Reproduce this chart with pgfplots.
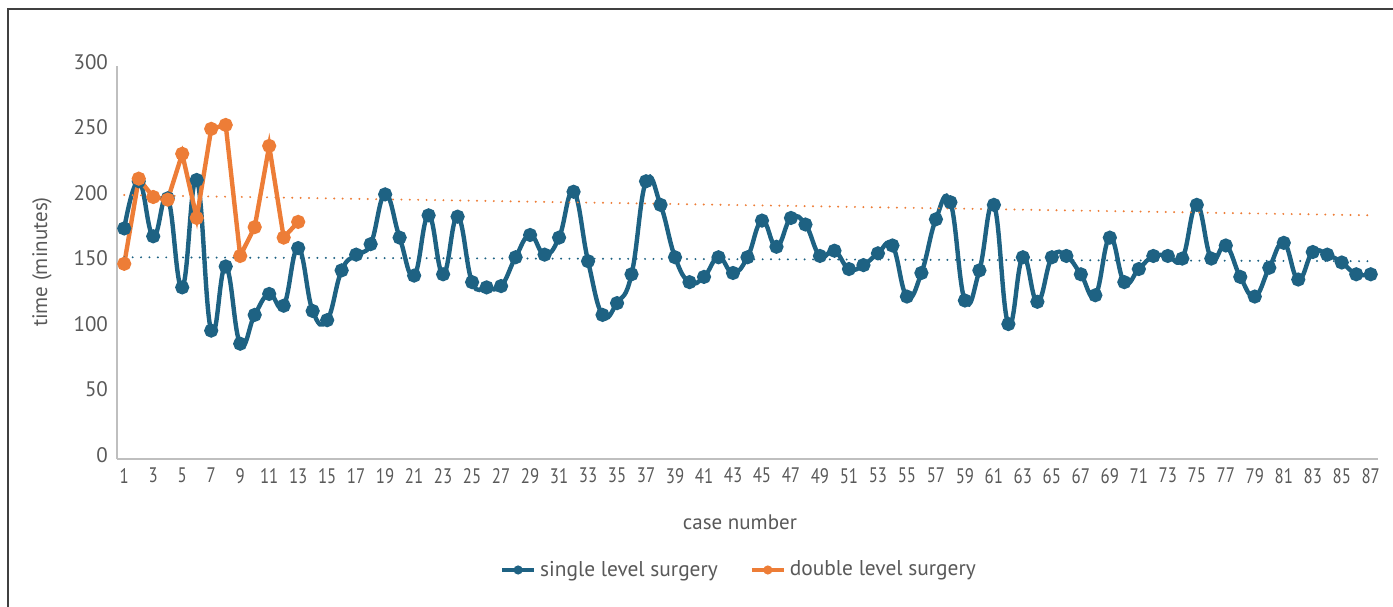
\documentclass[border=0pt]{standalone}
\usepackage{pgfplots}
\pgfplotsset{compat=1.18}
\usepackage{fontspec}
\setmainfont{PT Sans}
\newfontfamily\condfont[FakeStretch=0.8]{PT Sans}
\definecolor{sblue}{RGB}{30,98,131}
\definecolor{sorange}{RGB}{237,125,55}
\definecolor{txt}{RGB}{89,89,89}
\definecolor{axl}{RGB}{191,191,191}
\begin{document}
\begin{tikzpicture}
\useasboundingbox (0,0) rectangle (696.5pt,303pt);
\draw[black!75, line width=0.8pt] (4pt,-5pt) -- (4pt,298.5pt) -- (705pt,298.5pt);
\begin{axis}[
  at={(58.5pt,73.5pt)}, anchor=south west,
  scale only axis, width=630.5pt, height=196.5pt,
  xmin=0.5, xmax=87.5, ymin=0, ymax=300,
  axis x line*=bottom, axis y line*=left,
  axis line style={-, draw=axl, line width=0.9pt},
  major tick length=0pt,
  xtick={1,3,...,87}, ytick={0,50,...,300},
  /pgf/number format/assume math mode=true,
  yticklabel style={font=\fontsize{10.5}{12}\selectfont, text=txt, xshift=-1pt, yshift=2pt},
  xticklabel style={font=\condfont\fontsize{10.5}{12}\selectfont, text=txt, yshift=-1pt},
  xlabel={case number}, ylabel={time (minutes)},
  label style={font=\fontsize{10.5}{12}\selectfont, text=txt},
  xlabel style={at={(axis description cs:0.494,-0.160)}, anchor=center},
  ylabel style={at={(axis description cs:-0.0595,0.501)}, anchor=center, rotate=0},
  legend style={at={(axis description cs:0.494,-0.2824)}, anchor=center, draw=none,
    font=\fontsize{10.7}{12}\selectfont, text=txt, legend columns=2,
    /tikz/every even column/.append style={column sep=14pt}},
  legend image code/.code={\draw[#1, line width=2pt] (0pt,0pt) -- (16pt,0pt); \fill[#1, draw=none] (8pt,0pt) circle (2.3pt);},
  clip=false,
]
\addplot[sblue, line width=2.2pt, smooth, tension=0.75, mark=*, mark size=2.4pt, mark options={solid, fill=sblue, draw=sblue}] coordinates {
(1,176) (2,212) (3,170) (4,199) (5,131) (6,213) (7,98) (8,147) (9,88) (10,110)
(11,126) (12,117) (13,161) (14,113) (15,106) (16,144) (17,156) (18,164) (19,202) (20,169)
(21,140) (22,186) (23,141) (24,185) (25,135) (26,131) (27,132) (28,154) (29,171) (30,156)
(31,169) (32,204) (33,151) (34,110) (35,119) (36,141) (37,212) (38,194) (39,154) (40,135)
(41,139) (42,154) (43,142) (44,154) (45,182) (46,162) (47,184) (48,179) (49,155) (50,159)
(51,145) (52,148) (53,157) (54,163) (55,124) (56,142) (57,183) (58,196) (59,121) (60,144)
(61,194) (62,103) (63,154) (64,120) (65,154) (66,155) (67,141) (68,125) (69,169) (70,135)
(71,145) (72,155) (73,155) (74,153) (75,194) (76,153) (77,163) (78,139) (79,124) (80,146)
(81,165) (82,137) (83,158) (84,156) (85,150) (86,141) (87,141)
};
\addlegendentry{single level surgery}
\addplot[sorange, line width=2.2pt, mark=*, mark size=2.4pt, mark options={solid, fill=sorange, draw=sorange}] coordinates {
(1,149) (2,214) (3,200) (4,198) (5,233) (6,184) (7,252) (8,255) (9,155) (10,177)
(11,239) (12,169) (13,181)
};
\addlegendentry{double level surgery}
\addplot[sorange, line width=1.1pt, line cap=round, dash pattern=on 0pt off 4.2pt, forget plot] coordinates {(1,201.5) (87,186)};
\addplot[sblue, line width=1.1pt, line cap=round, dash pattern=on 0pt off 4.2pt, forget plot] coordinates {(1,154) (87,151)};
\end{axis}
\end{tikzpicture}
\end{document}
